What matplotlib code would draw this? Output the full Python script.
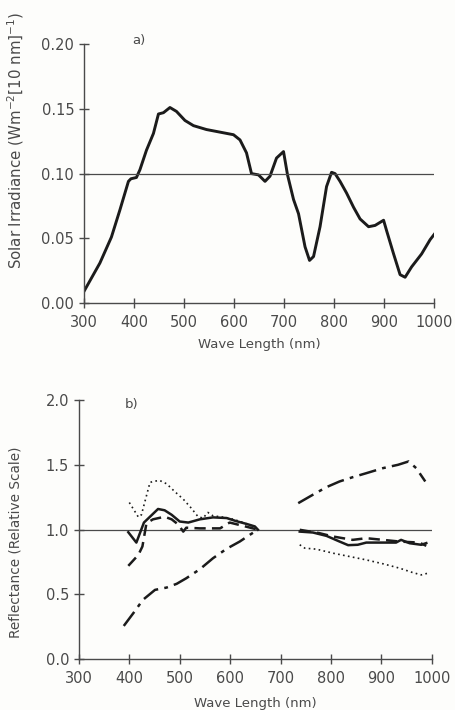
import numpy as np
import matplotlib
matplotlib.use("Agg")
import matplotlib.pyplot as plt

# a) solar irradiance
wl_a = [300, 332, 355, 372, 389, 394, 405, 412, 425, 439, 449, 459, 472, 485,
        502, 519, 545, 572, 599, 612, 625, 635, 649, 662, 672, 685, 699, 707,
        719, 729, 742, 751, 759, 772, 785, 795, 802, 812, 825, 839, 852, 869,
        882, 899, 905, 919, 932, 942, 955, 975, 992, 1002]
irr = [0.009, 0.031, 0.051, 0.072, 0.094, 0.096, 0.097, 0.103, 0.118, 0.131,
       0.146, 0.147, 0.151, 0.148, 0.141, 0.137, 0.134, 0.132, 0.130, 0.126,
       0.116, 0.100, 0.099, 0.094, 0.098, 0.112, 0.117, 0.099, 0.080, 0.069,
       0.0435, 0.033, 0.036, 0.059, 0.090, 0.101, 0.100, 0.094, 0.085, 0.074,
       0.065, 0.059, 0.060, 0.064, 0.056, 0.038, 0.022, 0.020, 0.028, 0.038,
       0.049, 0.054]

# b) reflectance, visible part and near-infrared part
solid_wl1 = [398, 414, 429, 441, 457, 470, 484, 500, 517, 540, 566, 593, 612, 632, 649, 655]
solid_r1 = [0.98, 0.90, 1.055, 1.10, 1.16, 1.15, 1.115, 1.063, 1.055, 1.08, 1.095, 1.09, 1.066, 1.045, 1.025, 1.0]
solid_wl2 = [738, 764, 791, 817, 834, 853, 870, 903, 929, 939, 956, 979, 989]
solid_r2 = [0.985, 0.978, 0.952, 0.908, 0.88, 0.883, 0.90, 0.90, 0.90, 0.921, 0.895, 0.883, 0.896]

dash_wl1 = [398, 418, 426, 434, 447, 470, 484, 497, 507, 513, 540, 580, 599, 625, 655]
dash_r1 = [0.72, 0.805, 0.87, 1.05, 1.08, 1.10, 1.08, 1.04, 0.985, 1.015, 1.01, 1.01, 1.055, 1.03, 1.0]
dash_wl2 = [738, 777, 804, 843, 870, 903, 936, 975, 989]
dash_r2 = [0.999, 0.973, 0.947, 0.921, 0.934, 0.921, 0.908, 0.90, 0.875]

dot_wl1 = [400, 418, 424, 441, 447, 460, 474, 490, 507, 523, 536, 546, 556, 566, 586, 606, 626, 645, 655]
dot_r1 = [1.21, 1.097, 1.115, 1.365, 1.373, 1.381, 1.355, 1.295, 1.236, 1.166, 1.102, 1.089, 1.133, 1.107, 1.097, 1.081, 1.055, 1.025, 1.0]
dot_wl2 = [738, 748, 771, 804, 837, 870, 903, 936, 962, 979, 992]
dot_r2 = [0.883, 0.857, 0.849, 0.818, 0.792, 0.766, 0.736, 0.702, 0.668, 0.65, 0.663]

dd_wl1 = [389, 408, 427, 451, 474, 494, 513, 540, 566, 593, 619, 639, 655]
dd_r1 = [0.255, 0.354, 0.457, 0.534, 0.552, 0.581, 0.624, 0.694, 0.779, 0.852, 0.908, 0.96, 1.0]
dd_wl2 = [735, 764, 791, 817, 843, 870, 903, 933, 954, 969, 987]
dd_r2 = [1.205, 1.27, 1.329, 1.373, 1.406, 1.437, 1.476, 1.502, 1.528, 1.476, 1.373]

ink = "#1b1b1b"
grey = "#4a4a4a"
plt.rcParams["font.family"] = "DejaVu Sans"
plt.rcParams["text.color"] = grey
plt.rcParams["xtick.color"] = grey
plt.rcParams["ytick.color"] = grey
plt.rcParams["axes.labelcolor"] = grey

fig = plt.figure(figsize=(4.56, 7.10), dpi=100)
fig.patch.set_facecolor("#fdfdfb")


def style(ax):
    for s in ["top", "right"]:
        ax.spines[s].set_visible(False)
    for s in ["left", "bottom"]:
        ax.spines[s].set_color(grey)
        ax.spines[s].set_linewidth(1.0)
    ax.set_facecolor("none")
    ax.tick_params(direction="inout", length=7, width=1.0, labelsize=10.5)
    ax.tick_params(axis="x", pad=5)
    ax.set_xlim(300, 1000)
    ax.set_xticks(range(300, 1001, 100))


# top panel
ax1 = fig.add_axes([0.184, 0.573, 0.768, 0.365])
style(ax1)
ax1.plot(wl_a, irr, color=ink, lw=2.1, solid_joinstyle="round")
ax1.plot([300, 1000], [0.10, 0.10], color=grey, lw=0.9)
ax1.set_ylim(0, 0.20)
ax1.set_yticks([0, 0.05, 0.10, 0.15, 0.20])
ax1.set_yticklabels(["0.00", "0.05", "0.10", "0.15", "0.20"])
ax1.set_xlabel("Wave Length (nm)", fontsize=9.5, labelpad=6)
ax1.set_ylabel(r"Solar Irradiance (Wm$^{-2}$[10 nm]$^{-1}$)", fontsize=10.8)
ax1.yaxis.set_label_coords(-0.165, 0.63)
ax1.text(396, 0.203, "a)", fontsize=9.5, va="center")

# bottom panel
ax2 = fig.add_axes([0.173, 0.072, 0.774, 0.364])
style(ax2)
ax2.plot([300, 1000], [1.0, 1.0], color=grey, lw=0.9)
for w, r in [(solid_wl1, solid_r1), (solid_wl2, solid_r2)]:
    ax2.plot(w, r, color=ink, lw=1.8, ls="-")
for w, r in [(dash_wl1, dash_r1), (dash_wl2, dash_r2)]:
    ax2.plot(w, r, color=ink, lw=1.8, ls=(0, (4.5, 2.5)))
for w, r in [(dot_wl1, dot_r1), (dot_wl2, dot_r2)]:
    ax2.plot(w, r, color=ink, lw=1.2, ls=(0, (1, 2)))
for w, r in [(dd_wl1, dd_r1), (dd_wl2, dd_r2)]:
    ax2.plot(w, r, color=ink, lw=1.8, ls=(0, (7, 2.5, 1.5, 2.5)))
ax2.set_ylim(0, 2.0)
ax2.set_yticks([0, 0.5, 1.0, 1.5, 2.0])
ax2.set_yticklabels(["0.0", "0.5", "1.0", "1.5", "2.0"])
ax2.set_xlabel("Wave Length (nm)", fontsize=9.5, labelpad=8)
ax2.set_ylabel("Reflectance (Relative Scale)", fontsize=9.8)
ax2.yaxis.set_label_coords(-0.16, 0.45)
ax2.text(391, 1.97, "b)", fontsize=9.5, va="center")

fig.savefig("out.png", dpi=100, facecolor=fig.get_facecolor())
